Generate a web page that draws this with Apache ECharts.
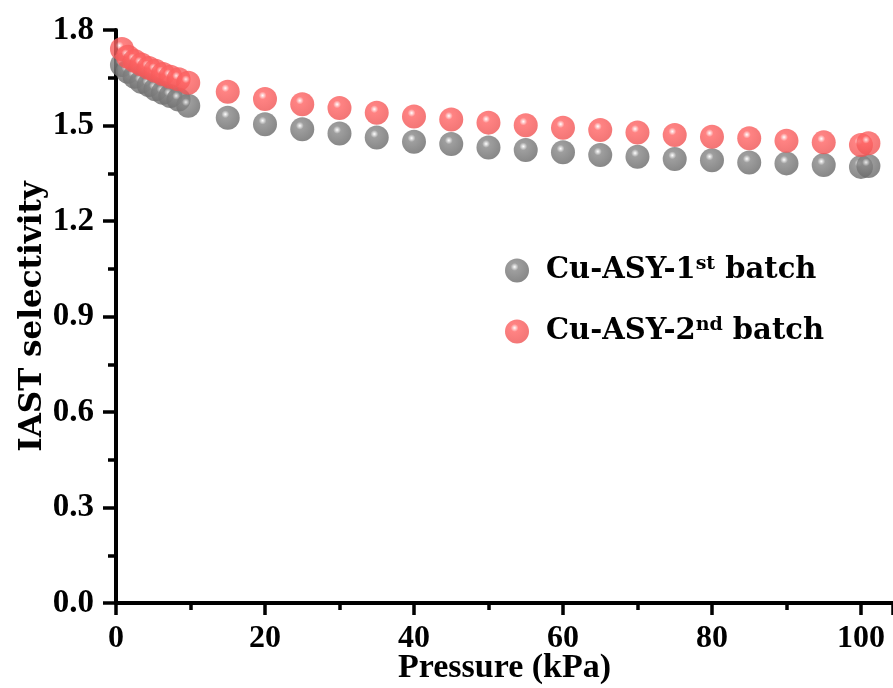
<!DOCTYPE html>
<html>
<head>
<meta charset="utf-8">
<script src="https://cdn.jsdelivr.net/npm/echarts@6/dist/echarts.min.js"></script>
<style>html,body{margin:0;padding:0;background:#fff}#c{width:893px;height:688px}</style>
</head>
<body>
<div id="c"></div>
<script>
const pressure = [0.8, 1.6, 2.5, 3.4, 4.4, 5.3, 6.3, 7.3, 8.4, 9.7, 15, 20, 25, 30, 35, 40, 45, 50, 55, 60, 65, 70, 75, 80, 85, 90, 95, 100, 101];
const batch1 = [1.690, 1.669, 1.653, 1.637, 1.627, 1.614, 1.603, 1.593, 1.582, 1.562, 1.524, 1.504, 1.488, 1.475, 1.462, 1.449, 1.442, 1.431, 1.423, 1.416, 1.407, 1.402, 1.395, 1.391, 1.384, 1.381, 1.376, 1.370, 1.373];
const batch2 = [1.740, 1.716, 1.703, 1.692, 1.681, 1.672, 1.662, 1.653, 1.645, 1.634, 1.606, 1.583, 1.567, 1.555, 1.540, 1.528, 1.519, 1.509, 1.501, 1.493, 1.486, 1.478, 1.470, 1.465, 1.460, 1.452, 1.447, 1.439, 1.444];
const seriesNames = ['Cu-ASY-1st batch', 'Cu-ASY-2nd batch'];
const legendParts = { 'Cu-ASY-1st batch': ['Cu-ASY-1', 'st', ' batch'], 'Cu-ASY-2nd batch': ['Cu-ASY-2', 'nd', ' batch'] };
const yTicks = { min: 0, max: 1.8, interval: 0.3 };
const xTicks = { min: 0, max: 104.3, interval: 20 };

function sphere(base, dark) {
  return new echarts.graphic.RadialGradient(0.4, 0.35, 0.65, [
    { offset: 0, color: '#ffffff' },
    { offset: 0.25, color: base },
    { offset: 1, color: dark }
  ]);
}
const pair = (xs, ys) => xs.map((x, i) => [x, ys[i]]);

const chart = echarts.init(document.getElementById('c'));
const axisLineStyle = { color: '#000', width: 4 };
const tickStyle = { width: 3.5, color: '#000' };
chart.setOption({
  animation: false,
  grid: { left: 116, top: 30, right: 0, bottom: 85, containLabel: false, outerBoundsMode: 'none' },
  xAxis: [{
    type: 'value', min: xTicks.min, max: xTicks.max, interval: xTicks.interval,
    name: 'Pressure (kPa)', nameLocation: 'middle', nameGap: 48, nameMoveOverlap: false,
    nameTextStyle: { fontFamily: 'Liberation Serif', fontWeight: 'bold', fontSize: 34, color: '#000' },
    axisLine: { onZero: false, lineStyle: axisLineStyle },
    axisTick: { show: true, inside: false, length: 12, lineStyle: tickStyle },
    minorTick: { show: true, splitNumber: 2, length: 7, lineStyle: tickStyle },
    axisLabel: { showMaxLabel: false, margin: 20, fontFamily: 'Liberation Serif', fontWeight: 'bold', fontSize: 32, color: '#000' },
    splitLine: { show: false }
  }, {
    type: 'value', position: 'top', min: xTicks.min, max: xTicks.max,
    axisLine: { lineStyle: axisLineStyle }, axisTick: { show: false }, axisLabel: { show: false }, splitLine: { show: false }
  }],
  yAxis: {
    type: 'value', min: yTicks.min, max: yTicks.max, interval: yTicks.interval,
    name: 'IAST selectivity', nameLocation: 'middle', nameGap: 68, nameMoveOverlap: false,
    nameTextStyle: { fontFamily: 'DejaVu Serif', fontWeight: 'bold', fontSize: 31, color: '#000' },
    axisLine: { onZero: false, lineStyle: axisLineStyle },
    axisTick: { show: true, inside: false, length: 13, lineStyle: tickStyle },
    minorTick: { show: true, splitNumber: 2, length: 8, lineStyle: tickStyle },
    axisLabel: { margin: 22, fontFamily: 'Liberation Serif', fontWeight: 'bold', fontSize: 33, color: '#000',
      formatter: v => v.toFixed(1) },
    splitLine: { show: false }
  },
  legend: {
    orient: 'vertical', left: 500, top: 250, itemGap: 31, itemWidth: 24, itemHeight: 24, icon: 'circle',
    data: seriesNames,
    formatter: n => `{a|${legendParts[n][0]}}{s|${legendParts[n][1]}}{a|${legendParts[n][2]}}`,
    textStyle: {
      padding: [0, 0, 0, 12],
      rich: {
        a: { fontFamily: 'DejaVu Serif', fontWeight: 'bold', fontSize: 29, color: '#000' },
        s: { fontFamily: 'DejaVu Serif', fontWeight: 'bold', fontSize: 19, color: '#000', verticalAlign: 'top', padding: [0, 0, 12, 0] }
      }
    }
  },
  series: [{
    name: seriesNames[0], type: 'scatter', symbol: 'circle', symbolSize: 24,
    data: pair(pressure, batch1),
    itemStyle: { color: sphere('#868686', '#6a6a6a') }
  }, {
    name: seriesNames[1], type: 'scatter', symbol: 'circle', symbolSize: 24,
    data: pair(pressure, batch2),
    itemStyle: { color: sphere('#ff6464', '#f05454') }
  }]
});
</script>
</body>
</html>
